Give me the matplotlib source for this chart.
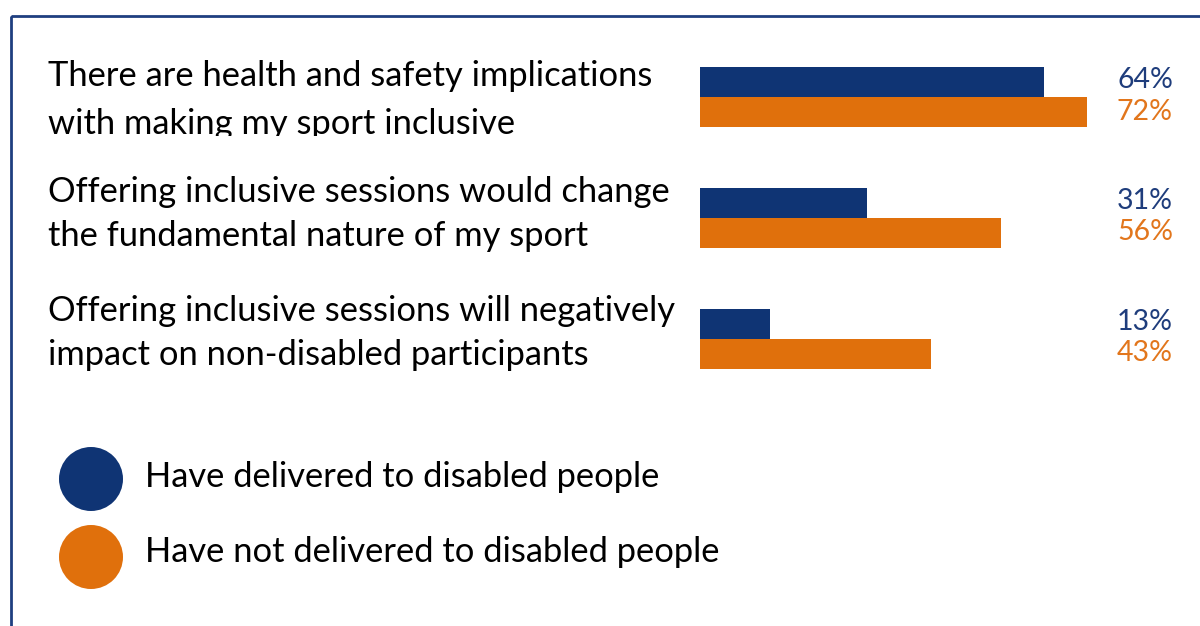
import matplotlib.pyplot as plt
from matplotlib.patches import Rectangle, Circle

# survey statements (two lines each) and share agreeing, per group
statements = [
    ["There are health and safety implications", "with making my sport inclusive"],
    ["Offering inclusive sessions would change", "the fundamental nature of my sport"],
    ["Offering inclusive sessions will negatively", "impact on non-disabled participants"],
]
delivered = [64, 31, 13]
not_delivered = [72, 56, 43]
series_names = ["Have delivered to disabled people", "Have not delivered to disabled people"]

BLUE = "#0f3474"
ORANGE = "#e0700c"
BLUE_TXT = "#1f3d7c"
ORANGE_TXT = "#e2761c"
FONT = "Lato"


def main():
    fig = plt.figure(figsize=(12, 6.26), dpi=100)
    fig.patch.set_facecolor("white")

    # background axes in pixel units for frame, labels and legend
    bg = fig.add_axes([0, 0, 1, 1])
    bg.set_xlim(0, 1200)
    bg.set_ylim(626, 0)
    bg.axis("off")

    bg.add_patch(Rectangle((10.5, 16), 1300, 700, fill=False,
                           edgecolor="#1f3f80", lw=2.0))

    baselines = [(86, 134), (202, 246), (321, 365)]
    clip = Rectangle((0, 0), 1200, 136, transform=bg.transData)
    for i, (lines, ys) in enumerate(zip(statements, baselines)):
        for j, (txt, y) in enumerate(zip(lines, ys)):
            t = bg.text(48, y, txt, fontsize=24.8, family=FONT,
                        color="black", va="baseline", ha="left")
            if i == 0 and j == 1:
                # bottom of this line is cut off
                t.set_clip_path(clip)
                t.set_clip_on(True)

    # legend
    for y, ty, col, name in zip([479, 557], [487, 562], [BLUE, ORANGE], series_names):
        bg.add_patch(Circle((91, y), 32, color=col, lw=0))
        bg.text(145, ty, name, fontsize=24.8, family=FONT,
                color="black", va="baseline", ha="left")

    # bar axes: 0% at x=700px, 5.375 px per percent
    ax = fig.add_axes([700 / 1200, 1 - 399 / 626, 500 / 1200, 362 / 626])
    ax.set_xlim(0, 500 / 5.375)
    ax.set_ylim(2.5, -0.5)
    ax.axis("off")
    ax.patch.set_alpha(0)

    pos = range(len(delivered))
    h = 0.249
    ax.barh([p - h / 2 for p in pos], delivered, height=h, color=BLUE, lw=0)
    ax.barh([p + h / 2 for p in pos], not_delivered, height=h, color=ORANGE, lw=0)

    for p, a, b in zip(pos, delivered, not_delivered):
        ax.text(88.0, p - 0.14, f"{a}%", color=BLUE_TXT, fontsize=20.5, family=FONT,
                ha="right", va="center")
        ax.text(88.0, p + 0.12, f"{b}%", color=ORANGE_TXT, fontsize=20.5, family=FONT,
                ha="right", va="center")

    fig.savefig("out.png", dpi=100)


if __name__ == "__main__":
    main()
